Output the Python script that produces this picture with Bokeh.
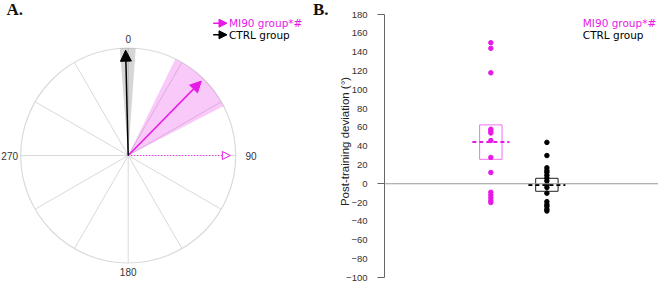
import math
from bokeh.plotting import figure
from bokeh.layouts import row
from bokeh.models import Range1d, Arrow, NormalHead, FixedTicker, Span
from bokeh.core.properties import value
from bokeh.embed import file_html
from bokeh.resources import INLINE

# ---------------- data ----------------
groups = ["MI90 group*#", "CTRL group"]
group_colors = ["#e619e6", "#000000"]
mean_dev = [44.5, -1.4]            # mean post-training deviation (deg)
box_lo = [26.0, -8.0]
box_hi = [62.6, 5.8]
polar_ci_lo = [26.0, -4.5]
polar_ci_hi = [62.6, 4.0]
target_angle = 90
compass_labels = ["0", "90", "180", "270"]
compass_angles = [0, 90, 180, 270]
y_ticks = list(range(-100, 181, 20))
y_min, y_max = -100, 180
mi90_values = [150, 144, 118, 58, 56, 54, 46, 28, 12, -9, -12, -15, -18, -20]
ctrl_values = [44, 30, 17, 14, 12, 9, 6, 3, -1, -4, -10, -19, -22, -24, -27, -29]
panel_labels = ["A.", "B."]
y_title = "Post-training deviation (°)"

MAG = group_colors[0]
TXT_FONT = "Liberation Sans"
LEG_FONT = "DejaVu Sans"

# ---------------- panel A : polar ----------------
H = 282
WA = 336
CX, CY, R = 127.7, 155.0, 107.5

def ax_(px):
    return (px - CX) / R

def ay_(py):
    return (CY - py) / R

pA = figure(width=WA, height=H, x_range=Range1d(ax_(0), ax_(WA)), y_range=Range1d(ay_(H), ay_(0)),
            output_backend="svg", toolbar_location=None, min_border=0,
            min_border_left=0, min_border_right=0, min_border_top=0, min_border_bottom=0,
            x_axis_location=None, y_axis_location=None, outline_line_color=None)
pA.title = None
pA.grid.visible = False

spoke_angles = list(range(0, 360, 30))
pA.segment(x0=0, y0=0,
           x1=[math.sin(math.radians(a)) for a in spoke_angles],
           y1=[math.cos(math.radians(a)) for a in spoke_angles],
           line_color="#dadada", line_width=1)
pA.circle(x=0, y=0, radius=1, fill_color=None, line_color="#dadada", line_width=1.2)

pA.wedge(x=0, y=0, radius=1,
         start_angle=[math.radians(90 - h) for h in polar_ci_hi],
         end_angle=[math.radians(90 - l) for l in polar_ci_lo],
         direction="anticlock", fill_color=group_colors, fill_alpha=[0.23, 0.16], line_color=None)

# target (dotted) arrow
tl = 0.95
pA.add_layout(Arrow(end=NormalHead(size=8, fill_color="white", line_color=MAG, line_width=1),
                    x_start=0, y_start=0,
                    x_end=tl * math.sin(math.radians(target_angle)),
                    y_end=tl * math.cos(math.radians(target_angle)),
                    line_color=MAG, line_width=1.2, line_dash="1 2"))
# mean arrows
arrow_len = [0.97, 0.98]
for m, c, L in zip(mean_dev, group_colors, arrow_len):
    pA.add_layout(Arrow(end=NormalHead(size=11, fill_color=c, line_color=c, line_width=1),
                        x_start=0, y_start=0,
                        x_end=L * math.sin(math.radians(m)),
                        y_end=L * math.cos(math.radians(m)),
                        line_color=c, line_width=1.5))

# compass labels
lab_x, lab_y, lab_align = [], [], []
for a in compass_angles:
    c = math.cos(math.radians(a))
    if a in (0, 180):
        lab_x.append(0); lab_y.append(1.08 * c); lab_align.append("center")
    elif a == 90:
        lab_x.append(1.09); lab_y.append(0); lab_align.append("left")
    else:
        lab_x.append(-1.025); lab_y.append(0); lab_align.append("right")
pA.text(x=lab_x, y=lab_y, text=compass_labels, text_align=lab_align, text_baseline="middle",
        text_font=value(TXT_FONT), text_font_size="10px", text_color="#333333")

# legend A
leg_y = [22.7, 34.3]
for g, c, py in zip(groups, group_colors, leg_y):
    pA.add_layout(Arrow(end=NormalHead(size=8, fill_color=c, line_color=c, line_width=1),
                        x_start=ax_(212.7), y_start=ay_(py), x_end=ax_(226.5), y_end=ay_(py),
                        line_color=c, line_width=1.5))
pA.text(x=[ax_(228.5)] * 2, y=[ay_(p) for p in leg_y], text=groups, text_color=group_colors,
        text_align="left", text_baseline="middle", text_font=value(LEG_FONT), text_font_size="10.5px")

# panel letters (both drawn in A's canvas, which reaches past the "B." position)
pA.text(x=[ax_(6), ax_(312.5)], y=[ay_(8.5)] * 2, text=panel_labels, text_align="left",
        text_baseline="middle", text_font=value("Liberation Serif"), text_font_style="bold",
        text_font_size="17px", text_color="#111111")

# ---------------- panel B : dot plot ----------------
WB = 658 - WA
BX0 = WA
FL = 36
AX_TOP, AX_BOT = 14.0, 277.3      # page y of 180 and -100
FW = WB - FL
unit = 58.5
g1_px = 483.0
xs = 1 - (g1_px - (BX0 + FL)) / unit
xe = xs + FW / unit

def bx(px):
    return xs + (px - (BX0 + FL)) / unit

def by(py):
    return y_max - (py - AX_TOP) * (y_max - y_min) / (AX_BOT - AX_TOP)

pB = figure(width=WB, height=H, x_range=Range1d(xs, xe), y_range=Range1d(by(H), by(0)),
            output_backend="svg", toolbar_location=None,
            min_border_left=FL, min_border_right=0, min_border_top=0, min_border_bottom=0,
            x_axis_location=None, outline_line_color=None)
pB.title = None
pB.grid.visible = False
yax = pB.yaxis[0]
yax.bounds = (y_min, y_max)
yax.ticker = FixedTicker(ticks=y_ticks, minor_ticks=[y_min, 0, y_max])
yax.major_tick_out = 0
yax.major_tick_in = 0
yax.minor_tick_out = 7
yax.minor_tick_in = 0
yax.minor_tick_line_color = "#666666"
yax.axis_line_color = "#666666"
yax.major_label_standoff = 10
yax.major_label_text_font = TXT_FONT
yax.major_label_text_font_size = "9.5px"
yax.major_label_text_color = "#333333"
yax.axis_label = y_title
yax.axis_label_standoff = -8
yax.axis_label_text_font = TXT_FONT
yax.axis_label_text_font_style = "normal"
yax.axis_label_text_font_size = "11.5px"
yax.axis_label_text_color = "#222222"

pB.add_layout(Span(location=0, dimension="width", line_color="#999999", line_width=1.2))

gx = [1, 2]
box_w = 0.4
mean_w = 0.66
pB.quad(left=[x - box_w / 2 for x in gx], right=[x + box_w / 2 for x in gx],
        bottom=box_lo, top=box_hi, fill_color=None,
        line_color=["#f070f0", "#222222"], line_width=1)
pB.scatter(x=[gx[0]] * len(mi90_values), y=mi90_values, size=4.5, color=MAG)
pB.scatter(x=[gx[1]] * len(ctrl_values), y=ctrl_values, size=4.5, color="#000000")
pB.segment(x0=[x - mean_w / 2 for x in gx], x1=[x + mean_w / 2 for x in gx],
           y0=mean_dev, y1=mean_dev, line_color=group_colors, line_width=2, line_dash="4 3")

# legend B
pB.text(x=[bx(579)] * 2, y=[by(p) for p in leg_y], text=groups, text_color=group_colors,
        text_align="left", text_baseline="middle", text_font=value(LEG_FONT), text_font_size="10.5px")

layout = row(pA, pB, spacing=0)
open("out.html", "w").write(file_html(layout, INLINE))
